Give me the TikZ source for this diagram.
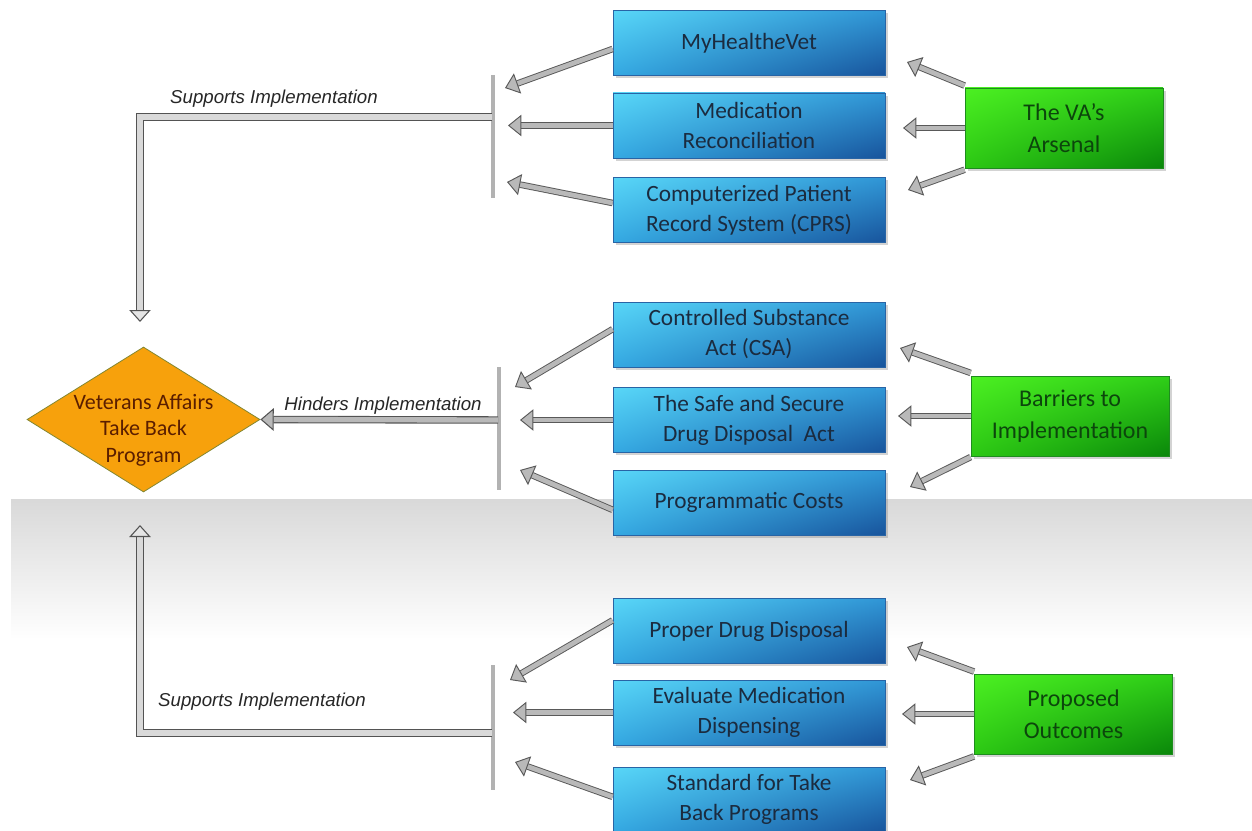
\documentclass[tikz,border=0pt]{standalone}
\usepackage{fontspec}
\setmainfont{Carlito}
\newfontfamily\labelfont{Liberation Sans}
\usetikzlibrary{arrows.meta,shapes.geometric,shadows,shadings}

\definecolor{boxtext}{RGB}{27,43,63}
\definecolor{greentext}{RGB}{12,70,12}
\definecolor{diatext}{RGB}{90,30,0}
\definecolor{blueul}{RGB}{88,214,247}
\definecolor{bluell}{RGB}{52,168,226}
\definecolor{blueur}{RGB}{48,150,214}
\definecolor{bluelr}{RGB}{24,84,156}
\definecolor{blueedge}{RGB}{40,100,165}
\definecolor{greenul}{RGB}{76,240,34}
\definecolor{greenll}{RGB}{44,200,20}
\definecolor{greenur}{RGB}{47,207,24}
\definecolor{greenlr}{RGB}{10,135,10}
\definecolor{greenedge}{RGB}{30,140,30}
\definecolor{diafill}{RGB}{247,161,12}
\definecolor{diaedge}{RGB}{130,135,50}

\tikzset{every picture/.style={line width=0.75pt}}
\tikzset{
bluebox/.style={draw=blueedge, line width=0.6pt,
  upper left=blueul, lower left=bluell, upper right=blueur, lower right=bluelr,
  minimum width=204pt, minimum height=48.75pt, inner sep=0pt, align=center,
  text=boxtext, font=\fontsize{17.5}{22.5}\selectfont,
  drop shadow={shadow xshift=2pt, shadow yshift=-2pt, opacity=0.35}},
greenbox/.style={draw=greenedge, line width=0.6pt,
  upper left=greenul, lower left=greenll, upper right=greenur, lower right=greenlr,
  minimum width=148.5pt, minimum height=60pt, inner sep=0pt, align=center,
  text=greentext, font=\fontsize{18}{24}\selectfont,
  drop shadow={shadow xshift=2pt, shadow yshift=-2pt, opacity=0.35}},
sarrow/.style={draw=gray!70!black, double=gray!55, double distance=3.5pt, line width=0.7pt,
  -{Triangle[open, fill=gray!55, width=16pt, length=10pt]}},
pipe/.style={draw=gray!65!black, double=gray!30, double distance=4pt, line width=0.8pt,
  -{Triangle[open, fill=gray!20, width=16pt, length=9pt]}},
hinder/.style={draw=gray!65!black, double=gray!55, double distance=4pt, line width=0.8pt,
  -{Triangle[open, fill=gray!55, width=17pt, length=10pt]}},
barline/.style={draw=gray!60, line width=3pt},
implabel/.style={font=\labelfont\itshape\fontsize{14}{16}\selectfont, text=black!85, inner sep=0.75pt}
}

\begin{document}
\begin{tikzpicture}[x=0.75pt,y=0.75pt,yscale=-1,xscale=1]
\useasboundingbox (0,0) rectangle (1252,831);

%Shape: Rectangle [band]
\node[minimum width=930.75pt, minimum height=105pt, inner sep=0pt, top color=black!15, bottom color=white] (band) at (631.5,569.5) {};

%Shape: Diamond
\node[diamond, draw=diaedge, fill=diafill, line width=0.6pt,
  minimum width=174.75pt, minimum height=108.75pt, inner sep=0pt] (vatbp) at (143.5,419.5) {};
% Text Node
\node[align=center, text=diatext, font=\fontsize{16.5}{20}\selectfont, inner sep=0pt] (vatbptext) at (143.5,430) {Veterans Affairs\\Take Back\\Program};

% Blue boxes
\node[bluebox] (mhv) at (749,43) {MyHealth\textit{e}Vet};
\node[bluebox] (medrec) at (749,125.5) {Medication\\Reconciliation};
\node[bluebox] (cprs) at (749,210) {Computerized Patient\\Record System (CPRS)};
\node[bluebox] (csa) at (749,334.5) {Controlled Substance\\Act (CSA)};
\node[bluebox] (sdda) at (749,420) {The Safe and Secure\\Drug Disposal\ \ Act};
\node[bluebox] (costs) at (749,502.5) {Programmatic Costs};
\node[bluebox] (disposal) at (749,631) {Proper Drug Disposal};
\node[bluebox] (dispensing) at (749,712.5) {Evaluate Medication\\Dispensing};
\node[bluebox] (standard) at (749,799.5) {Standard for Take\\Back Programs};

% Green boxes
\node[greenbox] (arsenal) at (1064,128) {The VA’s\\Arsenal};
\node[greenbox] (barriers) at (1070,416) {Barriers to\\Implementation};
\node[greenbox] (outcomes) at (1073.5,714) {Proposed\\Outcomes};

%Straight Lines [bars]
\draw[barline] (493,75) -- (493,198);
\draw[barline] (499,367) -- (499,490);
\draw[barline] (493,665) -- (493,790);

% Joints and tips
\coordinate (j1) at (492,117);
\coordinate (k1) at (140,322);
\coordinate (j2) at (498,420);
\coordinate (j3) at (492,733);
\coordinate (k3) at (140,525);

% Pipes
\draw[pipe] (j1) -| (k1);
\draw[hinder] (j2) -- (vatbp.east);
\draw[pipe] (j3) -| (k3);

% Text Node
\node[implabel] (sup1) at (274,99) {Supports Implementation};
\node[implabel] (hind) at (383,406) {Hinders Implementation};
\node[implabel] (sup2) at (262,702) {Supports Implementation};

% Arrow tips
\coordinate (a1) at (505,88);
\coordinate (a2) at (508,125.5);
\coordinate (a3) at (507,182);
\coordinate (b1) at (907,62);
\coordinate (b2) at (903,128);
\coordinate (b3) at (908,190);
\coordinate (c1) at (515,387);
\coordinate (c2) at (520,420);
\coordinate (c3) at (520,470);
\coordinate (d1) at (900,348);
\coordinate (d2) at (898,416);
\coordinate (d3) at (910,487);
\coordinate (e1) at (510,680);
\coordinate (e2) at (513,712.5);
\coordinate (e3) at (515,762);
\coordinate (f1) at (907,647);
\coordinate (f2) at (902,714);
\coordinate (f3) at (910,780);

% Small arrows
\draw[sarrow] ([yshift=4.5pt]mhv.west) -- (a1);
\draw[sarrow] (medrec.west) -- (a2);
\draw[sarrow] ([yshift=-5.25pt]cprs.west) -- (a3);
\draw[sarrow] ([yshift=-1.5pt]arsenal.north west) -- (b1);
\draw[sarrow] (arsenal.west) -- (b2);
\draw[sarrow] ([yshift=1pt]arsenal.south west) -- (b3);
\draw[sarrow] ([yshift=-4pt]csa.west) -- (c1);
\draw[sarrow] (sdda.west) -- (c2);
\draw[sarrow] ([yshift=5.5pt]costs.west) -- (c3);
\draw[sarrow] ([yshift=-2pt]barriers.north west) -- (d1);
\draw[sarrow] (barriers.west) -- (d2);
\draw[sarrow] ([yshift=0.5pt]barriers.south west) -- (d3);
\draw[sarrow] ([yshift=-8pt]disposal.west) -- (e1);
\draw[sarrow] (dispensing.west) -- (e2);
\draw[sarrow] ([yshift=-2pt]standard.west) -- (e3);
\draw[sarrow] ([yshift=-1.5pt]outcomes.north west) -- (f1);
\draw[sarrow] (outcomes.west) -- (f2);
\draw[sarrow] ([yshift=1.5pt]outcomes.south west) -- (f3);

\end{tikzpicture}
\end{document}
